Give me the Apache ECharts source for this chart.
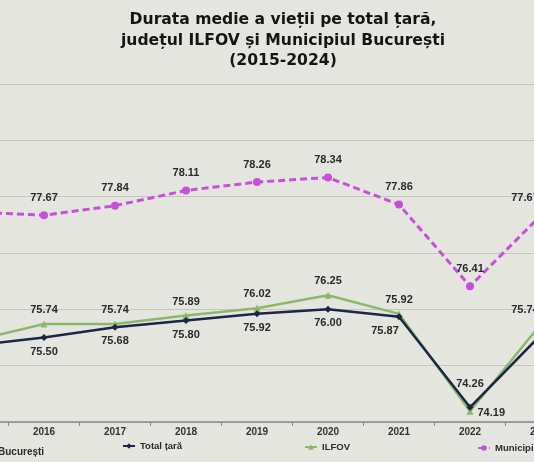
<!DOCTYPE html>
<html><head><meta charset="utf-8">
<script src="https://cdn.jsdelivr.net/npm/echarts@6/dist/echarts.min.js"></script>
<style>html,body{margin:0;padding:0;background:#e4e5de;}#c{width:534px;height:462px;}</style>
</head><body><div id="c"></div>
<script>
var years = ['2015','2016','2017','2018','2019','2020','2021','2022','2023','2024'];
var totalTara = [75.36, 75.50, 75.68, 75.80, 75.92, 76.00, 75.87, 74.26, 75.55, null];
var ilfov = [75.44, 75.74, 75.74, 75.89, 76.02, 76.25, 75.92, 74.19, 75.74, null];
var bucuresti = [77.73, 77.67, 77.84, 78.11, 78.26, 78.34, 77.86, 76.41, 77.67, null];
var names = ['Total țară', 'ILFOV', 'Municipiul București'];

var chart = echarts.init(document.getElementById('c'), null, {renderer:'canvas'});
var lblFont = {fontFamily:'Liberation Sans, Arial, sans-serif', fontWeight:'bold', fontSize:11, color:'#2a2a2a'};
function fmt(p){ return p.value == null ? '' : Number(p.value).toFixed(2); }
function withOverrides(arr, overrides){
  return arr.map(function(v,i){
    if (overrides[i]) return {value:v, label:overrides[i]};
    return v;
  });
}
var legendBase = {orient:'horizontal', itemWidth:12, itemHeight:7, itemGap:4,
  textStyle:{fontFamily:'Liberation Sans, Arial, sans-serif', fontWeight:'bold', fontSize:9.5, color:'#2a2a2a'}};
chart.setOption({
  backgroundColor:'#e4e5de',
  animation:false,
  title:{text:'Durata medie a vieții pe total țară,\njudețul ILFOV și Municipiul București\n(2015-2024)',
    left:278, top:5, textAlign:'center',
    textStyle:{fontFamily:'DejaVu Sans', fontWeight:'bold', fontSize:15.6, lineHeight:20.5, color:'#151515'}},
  legend:[
    Object.assign({data:[names[0]], left:117, top:436}, legendBase),
    Object.assign({data:[names[1]], left:299, top:437}, legendBase),
    Object.assign({data:[names[2]], left:472, top:438}, legendBase)
  ],
  graphic:[{type:'text', left:-2, top:447, style:{text:'București', fill:'#2a2a2a',
    font:'bold 10px "Liberation Sans", Arial, sans-serif'}}],
  grid:{left:-62.5, top:84, width:710, height:338, containLabel:false, outerBoundsMode:'none'},
  xAxis:{type:'category', data:years, boundaryGap:true,
    axisLine:{lineStyle:{color:'#8a8a86', width:1.5}},
    axisTick:{show:true, length:4, lineStyle:{color:'#8a8a86'}},
    axisLabel:{fontFamily:'Liberation Sans, Arial, sans-serif', fontWeight:'bold', fontSize:10, color:'#333', margin:5}},
  yAxis:{type:'value', min:74, max:80, interval:1,
    axisLabel:{show:false}, axisLine:{show:false}, axisTick:{show:false},
    splitLine:{lineStyle:{color:'#c4c5be', width:1}}},
  series:[
    {name:names[0], type:'line', data:withOverrides(totalTara, {
        6:{position:'bottom', offset:[-14,0]},
        7:{position:'top', distance:14},
        8:{show:false}}),
      symbol:'diamond', symbolSize:7, color:'#1b2547',
      lineStyle:{width:2.5, color:'#1b2547'},
      label:Object.assign({show:true, position:'bottom', distance:5, formatter:fmt}, lblFont), z:3},
    {name:names[1], type:'line', data:withOverrides(ilfov, {
        7:{position:'right', distance:4, offset:[0,2]},
        8:{position:'top', offset:[-16,0]}}),
      symbol:'triangle', symbolSize:7, color:'#8cb86b',
      lineStyle:{width:2.5, color:'#8cb86b'},
      label:Object.assign({show:true, position:'top', distance:5, formatter:fmt}, lblFont), z:2},
    {name:names[2], type:'line', data:withOverrides(bucuresti, {
        8:{position:'top', offset:[-16,0]}}),
      symbol:'circle', symbolSize:8, color:'#c74fd9',
      lineStyle:{width:3, color:'#c74fd9', type:[7,4]},
      label:Object.assign({show:true, position:'top', distance:8, formatter:fmt}, lblFont), z:2}
  ]
});
</script></body></html>
